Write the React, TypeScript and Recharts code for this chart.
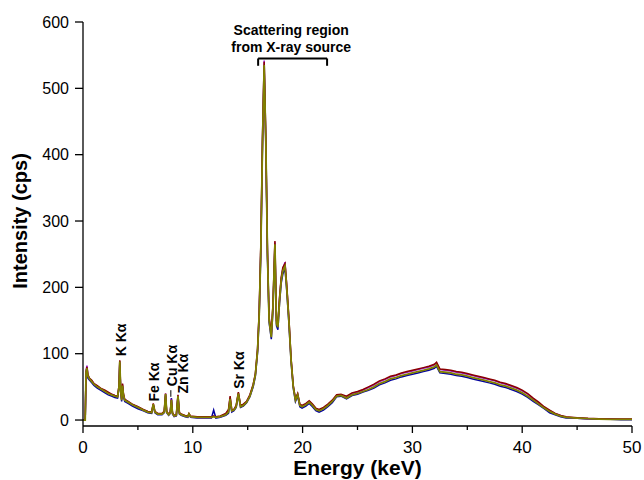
import React from 'react';
import { LineChart, Line, XAxis, YAxis, ReferenceDot, ReferenceLine } from 'recharts';

// energy grid (keV), 10 per row
const energy = [
  0, 0.2, 0.28, 0.36, 0.45, 0.6, 0.8, 1.0, 1.3, 1.6,
  2.0, 2.3, 2.6, 2.9, 3.15, 3.28, 3.35, 3.43, 3.52, 3.6,
  3.68, 3.8, 4.1, 4.5, 5.0, 5.5, 5.9, 6.25, 6.4, 6.55,
  6.8, 7.2, 7.4, 7.52, 7.62, 7.8, 7.95, 8.05, 8.15, 8.3,
  8.5, 8.65, 8.78, 8.95, 9.3, 9.55, 9.65, 9.8, 10.4, 11.0,
  11.7, 11.9, 12.1, 12.5, 13.0, 13.25, 13.4, 13.55, 13.75, 13.95,
  14.15, 14.35, 14.6, 14.9, 15.2, 15.5, 15.7, 15.9, 16.05, 16.2,
  16.35, 16.5, 16.65, 16.8, 16.95, 17.15, 17.3, 17.48, 17.62, 17.75,
  17.9, 18.05, 18.2, 18.4, 18.55, 18.75, 18.95, 19.15, 19.35, 19.55,
  19.75, 19.95, 20.3, 20.6, 20.9, 21.2, 21.5, 21.9, 22.3, 22.7,
  23.1, 23.5, 24.0, 24.5, 25.0, 25.5, 26.0, 26.5, 27.0, 27.5,
  28.0, 28.5, 29.0, 29.5, 30.0, 30.5, 31.0, 31.5, 32.0, 32.2,
  32.5, 33.0, 33.5, 34.0, 34.5, 35.0, 35.5, 36.0, 36.5, 37.0,
  37.5, 38.0, 38.5, 39.0, 39.5, 40.0, 40.5, 41.0, 41.5, 42.0,
  42.5, 43.0, 43.5, 44.0, 45.0, 46.0, 47.0, 48.0, 49.0, 50.0,
];

// intensities (cps) of the overlaid spectra
const blueRun = [
  0, 0, 70, 76, 63, 60, 56, 52, 48, 45,
  41, 38, 36, 34, 33, 48, 86, 43, 28, 50,
  36, 28, 25, 21, 17, 14, 11, 10, 22, 11,
  8, 8, 11, 37, 11, 7, 10, 33, 9, 5,
  6, 35, 9, 7, 5, 4, 8, 4, 3, 3,
  3, 15, 3, 4, 7, 10, 28, 12, 14, 19,
  38, 19, 21, 26, 35, 50, 66, 102, 158, 255,
  415, 530, 415, 245, 147, 122, 166, 260, 142, 136,
  176, 206, 220, 228, 196, 146, 88, 48, 28, 36,
  20, 18, 21, 25, 20, 14, 12, 15, 20, 26,
  35, 36, 32, 37, 39, 42, 45, 48, 53, 56,
  60, 62, 65, 67, 69, 71, 73, 75, 78, 81,
  71, 70, 69, 67, 66, 64, 62, 60, 58, 56,
  54, 51, 49, 46, 43, 39, 34, 28, 23, 17,
  11, 8, 5, 3, 2.5, 1.5, 1, 1, 0.5, 0.5,
];

const purpleRun = [
  0, 0, 74, 82, 67, 62, 59, 55, 51, 47,
  44, 41, 39, 37, 36, 51, 89, 46, 31, 54,
  39, 31, 28, 23, 20, 15, 13, 12, 24, 12,
  10, 9, 12, 40, 12, 8, 11, 32, 10, 6,
  7, 37, 11, 8, 6, 5, 9, 5, 4, 4,
  4, 6, 4, 5, 9, 14, 34, 14, 16, 21,
  41, 21, 23, 28, 37, 53, 69, 106, 163, 265,
  425, 542, 423, 252, 152, 128, 172, 268, 148, 143,
  183, 213, 228, 238, 203, 152, 92, 51, 31, 39,
  23, 21, 24, 28, 23, 17, 15, 18, 23, 29,
  37, 38, 34, 40, 42, 45, 49, 53, 58, 61,
  65, 67, 70, 72, 74, 76, 78, 80, 83, 86,
  76, 75, 74, 72, 71, 69, 67, 65, 63, 61,
  59, 56, 54, 51, 48, 44, 39, 32, 26, 19,
  14, 10, 7, 4, 3, 2, 1.5, 1.5, 1, 1,
];

const darkRedRun = [
  0, 0, 73, 80, 68, 63, 60, 55, 52, 48,
  45, 42, 39, 37, 36, 52, 90, 47, 32, 55,
  40, 31, 28, 24, 20, 16, 13, 12, 25, 13,
  10, 10, 13, 40, 13, 9, 12, 31, 11, 7,
  8, 38, 11, 9, 7, 6, 10, 6, 5, 5,
  5, 6, 5, 6, 10, 16, 36, 15, 16, 22,
  42, 22, 24, 28, 38, 54, 70, 108, 165, 268,
  428, 540, 425, 255, 155, 130, 175, 270, 150, 145,
  185, 215, 230, 236, 205, 155, 93, 52, 32, 40,
  24, 22, 25, 29, 24, 18, 16, 19, 24, 30,
  38, 39, 36, 41, 43, 46, 50, 54, 59, 62,
  66, 68, 71, 73, 75, 77, 79, 81, 84, 87,
  77, 76, 75, 73, 72, 70, 68, 66, 64, 62,
  60, 57, 55, 52, 49, 45, 40, 33, 27, 20,
  15, 10, 7, 5, 3.5, 2.5, 2, 1.5, 1.5, 1.5,
];

const oliveRun = [
  0, 0, 72, 78, 66, 62, 58, 54, 50, 47,
  43, 40, 38, 36, 35, 50, 88, 45, 30, 52,
  38, 30, 27, 23, 19, 15, 12, 11, 24, 12,
  9, 9, 12, 39, 12, 8, 11, 30, 10, 6,
  7, 36, 10, 8, 6, 5, 9, 5, 4, 4,
  4, 5, 4, 5, 8, 12, 32, 14, 15, 20,
  40, 20, 22, 27, 36, 52, 68, 105, 160, 260,
  420, 535, 420, 250, 150, 125, 170, 265, 145, 140,
  180, 210, 225, 232, 200, 150, 90, 50, 30, 38,
  22, 20, 23, 27, 22, 16, 14, 17, 22, 28,
  36, 37, 33, 38, 40, 43, 46, 50, 55, 58,
  62, 64, 67, 69, 71, 73, 75, 77, 80, 83,
  73, 72, 71, 69, 68, 66, 64, 62, 60, 58,
  56, 53, 51, 48, 45, 41, 36, 30, 24, 18,
  13, 9, 6, 4, 3, 2, 1.5, 1, 1, 1,
];

const xTicks = [0, 5, 10, 15, 20, 25, 30, 35, 40, 45, 50];
const yTicks = [0, 100, 200, 300, 400, 500, 600];

// peak labels: [text, energy, intensity at bottom of text]
const peakLabels: [string, number, number][] = [
  ['K Kα', 3.44, 96],
  ['Fe Kα', 6.44, 28],
  ['Cu Kα', 8.08, 51],
  ['Zn Kα', 9.08, 40],
  ['Sr Kα', 14.18, 47],
];

const FONT = 'Arial, "Liberation Sans", sans-serif';

const data = energy.map((e, i) => ({
  e,
  blue: blueRun[i],
  purple: purpleRun[i],
  darkred: darkRedRun[i],
  olive: oliveRun[i],
}));

const XTick = (props: any) => {
  const { x, y, payload } = props;
  const major = payload.value % 10 === 0;
  return (
    <g>
      <line x1={x} y1={y} x2={x} y2={y + (major ? 7 : 4)} stroke="#000" strokeWidth={1.3} />
      {major && (
        <text x={x} y={y + 27} textAnchor="middle" fontSize={17} fontFamily={FONT} fill="#000">
          {payload.value}
        </text>
      )}
    </g>
  );
};

const RotLabel = (props: any) => {
  const { cx, cy, text } = props;
  if (cx == null || cy == null) return null;
  return (
    <text
      x={cx}
      y={cy}
      transform={`rotate(-90 ${cx} ${cy})`}
      textAnchor="start"
      dominantBaseline="central"
      fontSize={14}
      fontWeight="bold"
      fontFamily={FONT}
      fill="#000"
    >
      {text}
    </text>
  );
};

const NoteLabel = (props: any) => {
  const { cx, cy } = props;
  if (cx == null || cy == null) return null;
  return (
    <text x={cx} y={cy} textAnchor="middle" fontSize={14} fontWeight="bold" fontFamily={FONT} fill="#000">
      <tspan x={cx} dy={0}>Scattering region</tspan>
      <tspan x={cx} dy={17}>from X-ray source</tspan>
    </text>
  );
};

export default function App() {
  return (
    <div style={{ position: 'absolute', left: 0, top: 0 }}>
      <LineChart width={644} height={480} data={data} margin={{ top: 22, right: 12, bottom: 0, left: 0 }}>
        <XAxis
          type="number"
          dataKey="e"
          domain={[0, 50]}
          ticks={xTicks}
          tick={<XTick />}
          tickLine={false}
          tickSize={0}
          tickMargin={0}
          height={54}
          axisLine={{ stroke: '#000', strokeWidth: 1.3 }}
          interval={0}
          label={{
            content: (p: any) => {
              const vb = p.viewBox || {};
              return (
                <text
                  x={vb.x + vb.width / 2}
                  y={475}
                  textAnchor="middle"
                  fontSize={21}
                  fontWeight="bold"
                  fontFamily={FONT}
                  fill="#000"
                >
                  Energy (keV)
                </text>
              );
            },
          }}
        />
        <YAxis
          type="number"
          domain={[-9, 600]}
          ticks={yTicks}
          width={83}
          tickSize={8}
          tickMargin={6}
          interval={0}
          tick={{ fontSize: 16, fontFamily: FONT, fill: '#000' }}
          tickLine={{ stroke: '#000', strokeWidth: 1.3 }}
          axisLine={{ stroke: '#000', strokeWidth: 1.3 }}
          label={{
            content: (p: any) => {
              const vb = p.viewBox || {};
              const cy = vb.y + vb.height / 2 - 3;
              return (
                <text
                  x={20}
                  y={cy}
                  transform={`rotate(-90 20 ${cy})`}
                  textAnchor="middle"
                  dominantBaseline="central"
                  fontSize={20}
                  fontWeight="bold"
                  fontFamily={FONT}
                  fill="#000"
                >
                  Intensity (cps)
                </text>
              );
            },
          }}
        />
        <Line dataKey="blue" stroke="#0000a0" strokeWidth={1.5} dot={false} isAnimationActive={false} type="linear" />
        <Line dataKey="purple" stroke="#9a1fd0" strokeWidth={1.5} dot={false} isAnimationActive={false} type="linear" />
        <Line dataKey="darkred" stroke="#8b0000" strokeWidth={1.5} dot={false} isAnimationActive={false} type="linear" />
        <Line dataKey="olive" stroke="#808000" strokeWidth={1.8} dot={false} isAnimationActive={false} type="linear" />

        {peakLabels.map(([t, e, v]) => (
          <ReferenceDot
            key={t}
            x={e}
            y={v}
            r={0}
            ifOverflow="visible"
            shape={(p: any) => <RotLabel {...p} text={t} />}
          />
        ))}
        <ReferenceLine segment={[{ x: 8.0, y: 35 }, { x: 8.0, y: 45 }]} stroke="#000" strokeWidth={1} />

        <ReferenceLine segment={[{ x: 15.95, y: 545 }, { x: 22.23, y: 545 }]} stroke="#000" strokeWidth={2} />
        <ReferenceLine segment={[{ x: 15.95, y: 545 }, { x: 15.95, y: 534 }]} stroke="#000" strokeWidth={2} />
        <ReferenceLine segment={[{ x: 22.23, y: 545 }, { x: 22.23, y: 534 }]} stroke="#000" strokeWidth={2} />
        <ReferenceDot x={18.96} y={580} r={0} ifOverflow="visible" shape={(p: any) => <NoteLabel {...p} />} />
      </LineChart>
    </div>
  );
}
